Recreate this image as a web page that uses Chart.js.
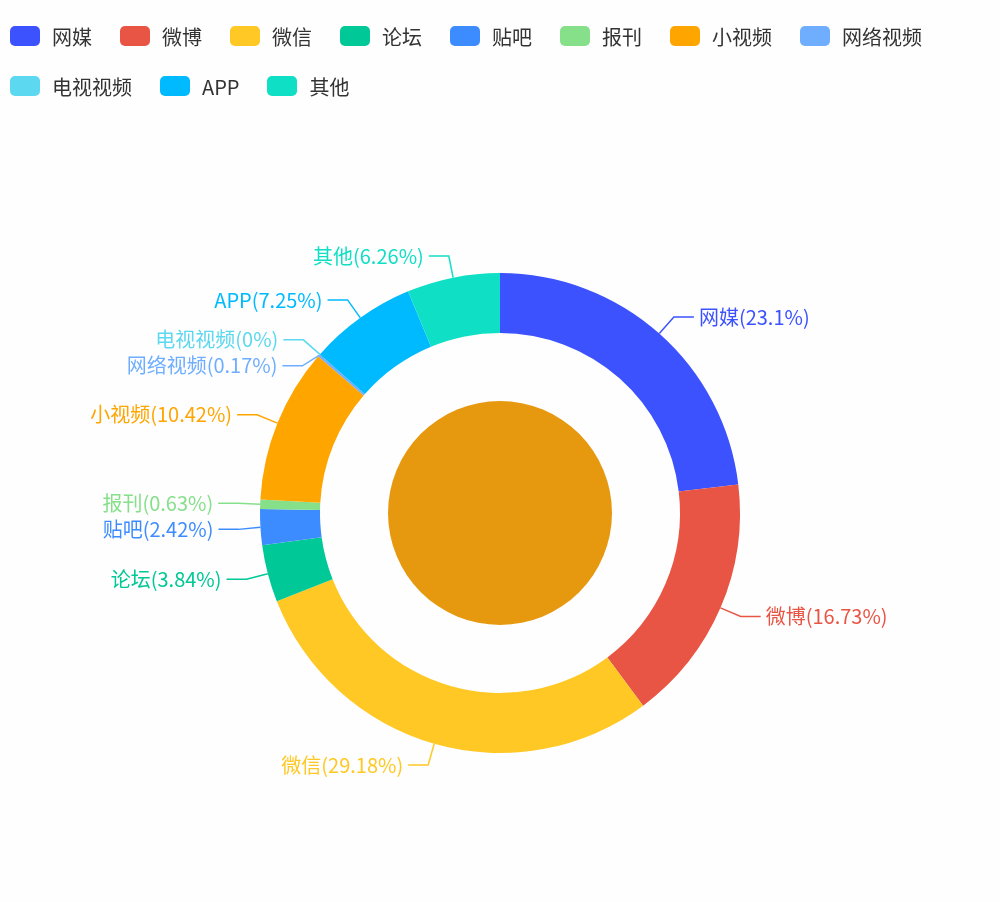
<!DOCTYPE html>
<html>
<head>
<meta charset="utf-8">
<script src="https://cdn.jsdelivr.net/npm/chart.js@4"></script>
<style>
  body { margin: 0; background: #fefefe; font-family: "Noto Sans CJK SC", "Noto Sans", sans-serif; }
  #wrap { position: relative; width: 1000px; height: 902px; }
  #chart { position: absolute; left: 0; top: 0; }
  .legend { position: absolute; left: 10px; top: 22px; width: 990px; display: flex; flex-wrap: wrap; row-gap: 22px; column-gap: 28px; }
  .legend-item { display: flex; align-items: center; font-size: 20px; color: #333; height: 28px; }
  .legend-item__dot { width: 30px; height: 20px; border-radius: 5px; margin-right: 12px; }
</style>
</head>
<body>
<div id="wrap">
  <canvas id="chart" width="1000" height="902"></canvas>
  <div class="legend" id="legend"></div>
</div>
<script>
const labels = ["网媒", "微博", "微信", "论坛", "贴吧", "报刊", "小视频", "网络视频", "电视视频", "APP", "其他"];
const values = [23.1, 16.73, 29.18, 3.84, 2.42, 0.63, 10.42, 0.17, 0, 7.25, 6.26];
const colors = ["#3d52ff", "#e85545", "#ffc824", "#00c896", "#3d8cff", "#86e08a", "#ffa500", "#6faeff", "#5cd8f0", "#00baff", "#0fdfc4"];

const $legend = document.getElementById("legend");
labels.forEach((label, i) => {
  const $item = document.createElement("div");
  $item.className = "legend-item";
  $item.innerHTML = `<span class="legend-item__dot" style="background:${colors[i]}"></span><span>${label}</span>`;
  $legend.appendChild($item);
});

const innerCirclePlugin = {
  id: "innerCircle",
  beforeDatasetsDraw(chart) {
    const { ctx } = chart;
    const arc = chart.getDatasetMeta(0).data[0];
    ctx.save();
    ctx.fillStyle = "#e6990f";
    ctx.beginPath();
    ctx.arc(arc.x, arc.y, 112, 0, Math.PI * 2);
    ctx.fill();
    ctx.restore();
  },
};

const outLabelsPlugin = {
  id: "outLabels",
  afterDatasetsDraw(chart) {
    const { ctx } = chart;
    const meta = chart.getDatasetMeta(0);
    const items = meta.data.map((arc, i) => {
      const angle = (arc.startAngle + arc.endAngle) / 2;
      const r = arc.outerRadius;
      const cos = Math.cos(angle), sin = Math.sin(angle);
      return {
        i, cos, sin,
        x0: arc.x + cos * r, y0: arc.y + sin * r,
        x1: arc.x + cos * (r + 22), y1: arc.y + sin * (r + 22),
        right: cos >= 0,
      };
    });
    // spread labels on each side so they don't overlap
    [true, false].forEach((side) => {
      const group = items.filter((it) => it.right === side).sort((a, b) => a.y1 - b.y1);
      for (let k = 1; k < group.length; k++) {
        if (group[k].y1 - group[k - 1].y1 < 26) group[k].y1 = group[k - 1].y1 + 26;
      }
    });
    ctx.save();
    ctx.font = "20px 'Noto Sans CJK SC', sans-serif";
    ctx.textBaseline = "middle";
    ctx.lineWidth = 1.5;
    items.forEach((it) => {
      const color = colors[it.i];
      const x2 = it.x1 + (it.right ? 20 : -20);
      ctx.strokeStyle = color;
      ctx.beginPath();
      ctx.moveTo(it.x0, it.y0);
      ctx.lineTo(it.x1, it.y1);
      ctx.lineTo(x2, it.y1);
      ctx.stroke();
      ctx.fillStyle = color;
      ctx.textAlign = it.right ? "left" : "right";
      ctx.fillText(`${labels[it.i]}(${values[it.i]}%)`, x2 + (it.right ? 5 : -5), it.y1);
    });
    ctx.restore();
  },
};

new Chart(document.getElementById("chart").getContext("2d"), {
  type: "doughnut",
  data: {
    labels,
    datasets: [{ data: values, backgroundColor: colors, borderWidth: 0 }],
  },
  options: {
    responsive: false,
    animation: false,
    cutout: "75%",
    layout: { padding: { top: 273, bottom: 149, left: 260, right: 260 } },
    plugins: { legend: { display: false }, tooltip: { enabled: false } },
  },
  plugins: [innerCirclePlugin, outLabelsPlugin],
});
</script>
</body>
</html>
